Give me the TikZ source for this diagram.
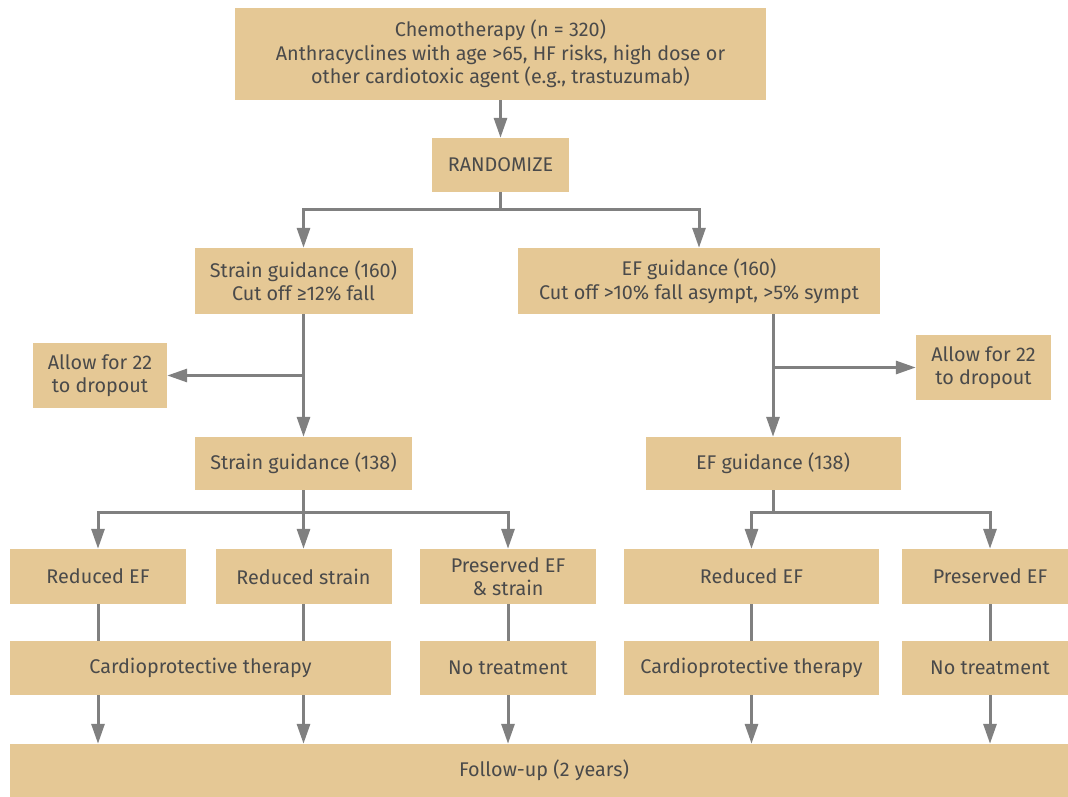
\documentclass[tikz,border=0pt]{standalone}
\usepackage{fontspec}
\setmainfont{Fira Sans}
\usetikzlibrary{arrows.meta,positioning}
\definecolor{boxtan}{HTML}{E5C895}
\definecolor{linegray}{HTML}{808080}
\definecolor{textgray}{HTML}{4A4A4A}

\begin{document}
\begin{tikzpicture}[x=1pt,y=-1pt,
    box/.style={fill=boxtan, text=textgray, align=center, inner sep=0pt,
      font=\fontsize{19.8}{23.5}\selectfont},
    link/.style={draw=linegray, line width=3pt},
    arr/.style={link, -{Triangle[length=20pt,width=13pt]}}]
  \useasboundingbox (0,0) rectangle (1068,797);

  \node[box, minimum width=531pt, minimum height=92pt] (chemo) at (500.5,54)
    {Chemotherapy (n = 320)\\Anthracyclines with age >65, HF risks, high dose or\\other cardiotoxic agent (e.g., trastuzumab)};
  \node[box, minimum width=137pt, minimum height=54pt] (rand) at (500.5,165) {RANDOMIZE};

  \node[box, minimum width=218pt, minimum height=66pt] (sg160) at (303.5,281)
    {Strain guidance (160)\\Cut off ≥12\% fall};
  \node[box, minimum width=362pt, minimum height=66pt] (ef160) at (699,281)
    {EF guidance (160)\\Cut off >10\% fall asympt, >5\% sympt};

  \node[box, minimum width=134pt, minimum height=65pt] (dropL) at (100,375.5)
    {Allow for 22\\to dropout};
  \node[box, minimum width=135pt, minimum height=65pt] (dropR) at (983.5,367.5)
    {Allow for 22\\to dropout};

  \node[box, minimum width=217pt, minimum height=53pt] (sg138) at (303.5,463.5) {Strain guidance (138)};
  \node[box, minimum width=255pt, minimum height=53pt] (ef138) at (773,463.5) {EF guidance (138)};

  % outcome row
  \node[box, minimum width=176pt, minimum height=55pt] (redEFa) at (98,576.5) {Reduced EF};
  \node[box, minimum width=176pt, minimum height=55pt] (redS) at (303.5,576.5) {Reduced strain};
  \node[box, minimum width=176pt, minimum height=55pt] (presES) at (508,576.5) {Preserved EF\\\& strain};
  \node[box, minimum width=255pt, minimum height=55pt] (redEFb) at (751.5,576.5) {Reduced EF};
  \node[box, minimum width=176pt, minimum height=55pt] (presEF) at (990,576.5) {Preserved EF};

  % treatment row
  \node[box, minimum width=381pt, minimum height=54pt] (cardioA) at (200.5,668) {Cardioprotective therapy};
  \node[box, minimum width=176pt, minimum height=54pt] (noTrA) at (508,668) {No treatment};
  \node[box, minimum width=255pt, minimum height=54pt] (cardioB) at (751.5,668) {Cardioprotective therapy};
  \node[box, minimum width=176pt, minimum height=54pt] (noTrB) at (990,668) {No treatment};

  \node[box, minimum width=1068pt, minimum height=53pt] (follow) at (544,770.5) {Follow-up (2 years)};

  \coordinate (split1) at (500.5,209);
  \coordinate (split2) at (303.5,512);
  \coordinate (split3) at (773,512);

  \draw[arr] (chemo) -- (rand);
  \draw[link] (rand) -- (split1);
  \draw[arr] (split1) -| (sg160);
  \draw[arr] (split1) -| (ef160);

  \draw[arr] (sg160) -- (sg138);
  \draw[arr] (sg160 |- dropL) -- (dropL);
  \draw[arr] (ef160.south -| ef138) -- (ef138);
  \draw[arr] (ef138 |- dropR) -- (dropR);

  \draw[link] (sg138) -- (split2);
  \draw[arr] (split2) -| (redEFa);
  \draw[arr] (split2) -- (redS);
  \draw[arr] (split2) -| (presES);
  \draw[link] (ef138) -- (split3);
  \draw[arr] (split3) -| (redEFb);
  \draw[arr] (split3) -| (presEF);

  \draw[link] (redEFa) -- (redEFa |- cardioA.north);
  \draw[link] (redS) -- (redS |- cardioA.north);
  \draw[link] (presES) -- (noTrA);
  \draw[link] (redEFb) -- (cardioB);
  \draw[link] (presEF) -- (noTrB);

  \draw[arr] (redEFa |- cardioA.south) -- (redEFa |- follow.north);
  \draw[arr] (redS |- cardioA.south) -- (redS |- follow.north);
  \draw[arr] (noTrA) -- (noTrA |- follow.north);
  \draw[arr] (cardioB) -- (cardioB |- follow.north);
  \draw[arr] (noTrB) -- (noTrB |- follow.north);
\end{tikzpicture}
\end{document}
